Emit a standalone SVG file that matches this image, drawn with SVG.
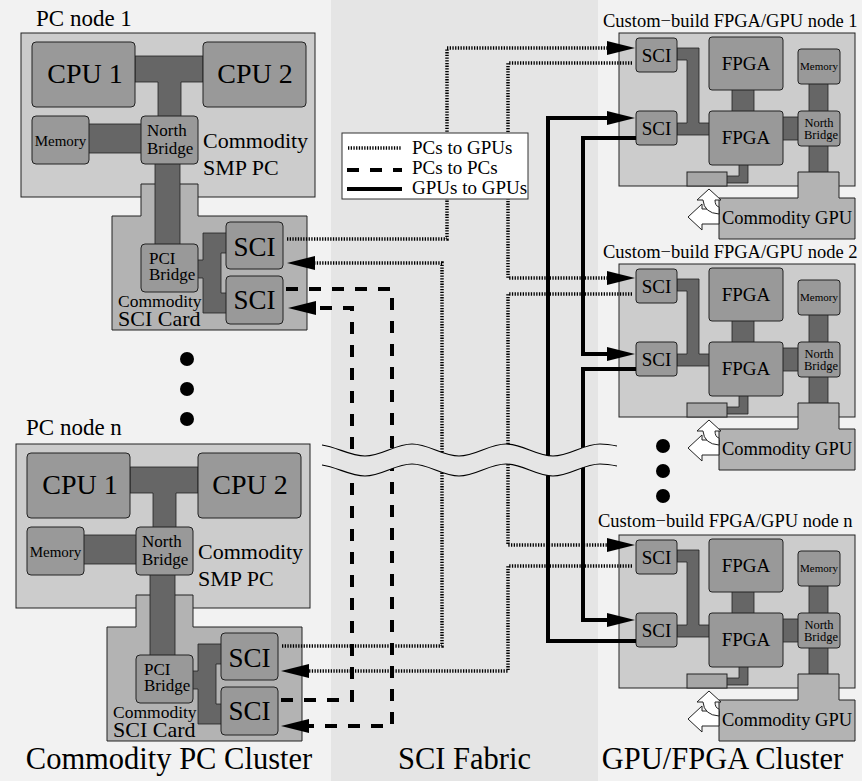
<svg xmlns="http://www.w3.org/2000/svg" width="862" height="781" viewBox="0 0 862 781" font-family="'Liberation Serif', 'DejaVu Serif', 'Noto Serif', serif">
<style>
text{font-family:'Liberation Serif','DejaVu Serif',serif;fill:#000}
.box{fill:#cccccc;stroke:#222;stroke-width:1}
.card{fill:#b3b3b3;stroke:#222;stroke-width:1}
.chip{fill:#999999;stroke:#222;stroke-width:1}
.bus{fill:#666666;stroke:#222;stroke-width:0.8}
.conn{fill:#a6a6a6;stroke:#222;stroke-width:1}
.warr{fill:#ffffff;stroke:#222;stroke-width:1}
.dot{fill:none;stroke:#000;stroke-width:3.5;stroke-dasharray:1.3 1.4}
.dash{fill:none;stroke:#000;stroke-width:4;stroke-dasharray:12 11}
.solid{fill:none;stroke:#000;stroke-width:4}
.arr{marker-end:url(#ah)}
.wave{fill:none;stroke:#000;stroke-width:1.2}
.mid{text-anchor:middle}
</style>
<defs>
<marker id="ah" markerUnits="userSpaceOnUse" markerWidth="28" markerHeight="14" viewBox="0 0 28 14" refX="1" refY="7" orient="auto">
<path d="M0,0 L28,7 L0,14 Z" fill="#000"/>
</marker>
<mask id="wavemask" maskUnits="userSpaceOnUse" x="0" y="0" width="862" height="781">
<rect x="0" y="0" width="862" height="781" fill="#fff"/>
<path fill="#000" d="M322,445 C337,447 350,456 365,456 C382,456 395,444 412,444 C429,444 442,456 459,456 C476,456 489,444 506,444 C523,444 536,456 553,456 C570,456 583,444 600,444 C607,444 612,445 617,446 L617,466 C612,465 607,464 600,464 C583,464 570,476 553,476 C536,476 523,464 506,464 C489,464 476,476 459,476 C442,476 429,464 412,464 C395,464 382,476 365,476 C350,476 337,467 322,465 Z"/>
</mask>
</defs>

<!-- background -->
<rect x="0" y="0" width="862" height="781" fill="#f2f2f2"/>
<rect x="331" y="0" width="267" height="781" fill="#e5e5e5"/>

<!-- PC node 1 -->
<g id="pc-node-1">
<text x="36" y="26" font-size="23">PC node 1</text>
<rect class="box" x="21" y="33" width="294" height="164"/>
<path class="card" d="M112,216 H141 V184 H198 V216 H307 V330 H112 Z"/>
<path class="bus" d="M135,56 H203 V82 H181 V118 H158 V82 H135 Z"/>
<rect class="bus" x="87" y="124" width="56" height="29"/>
<rect class="bus" x="155" y="162" width="25" height="84"/>
<path class="bus" d="M203,233 H227 V253 H221 V293 H227 V313 H203 V278 H197 V260 H203 Z"/>
<rect class="chip" x="32" y="42" width="103" height="65" rx="4"/>
<rect class="chip" x="203" y="42" width="103" height="65" rx="4"/>
<rect class="chip" x="32" y="116" width="57" height="48" rx="4"/>
<rect class="chip" x="141" y="116" width="57" height="48" rx="4"/>
<rect class="chip" x="141" y="244" width="57" height="48" rx="4"/>
<rect class="chip" x="226" y="222" width="57" height="47" rx="4"/>
<rect class="chip" x="226" y="276" width="57" height="48" rx="4"/>
<text x="85" y="83" font-size="28" class="mid">CPU 1</text>
<text x="255" y="83" font-size="28" class="mid">CPU 2</text>
<text x="60.5" y="146" font-size="15" class="mid">Memory</text>
<text x="147" y="136" font-size="17">North</text>
<text x="147" y="154" font-size="17">Bridge</text>
<text x="203" y="148" font-size="22">Commodity</text>
<text x="203" y="175" font-size="22">SMP PC</text>
<text x="149" y="264" font-size="17">PCI</text>
<text x="149" y="280" font-size="17">Bridge</text>
<text x="118" y="307" font-size="17.5">Commodity</text>
<text x="118" y="326" font-size="22">SCI Card</text>
<text x="254.5" y="256" font-size="27" class="mid">SCI</text>
<text x="254.5" y="309" font-size="27" class="mid">SCI</text>
</g>

<!-- PC node n -->
<g id="pc-node-n">
<text x="26" y="435" font-size="23">PC node n</text>
<g transform="translate(-5,411)">
<rect class="box" x="21" y="33" width="294" height="164"/>
<path class="card" d="M112,216 H141 V184 H198 V216 H307 V330 H112 Z"/>
<path class="bus" d="M135,56 H203 V82 H181 V118 H158 V82 H135 Z"/>
<rect class="bus" x="87" y="124" width="56" height="29"/>
<rect class="bus" x="155" y="162" width="25" height="84"/>
<path class="bus" d="M203,233 H227 V253 H221 V293 H227 V313 H203 V278 H197 V260 H203 Z"/>
<rect class="chip" x="32" y="42" width="103" height="65" rx="4"/>
<rect class="chip" x="203" y="42" width="103" height="65" rx="4"/>
<rect class="chip" x="32" y="116" width="57" height="48" rx="4"/>
<rect class="chip" x="141" y="116" width="57" height="48" rx="4"/>
<rect class="chip" x="141" y="244" width="57" height="48" rx="4"/>
<rect class="chip" x="226" y="222" width="57" height="47" rx="4"/>
<rect class="chip" x="226" y="276" width="57" height="48" rx="4"/>
<text x="85" y="83" font-size="28" class="mid">CPU 1</text>
<text x="255" y="83" font-size="28" class="mid">CPU 2</text>
<text x="60.5" y="146" font-size="15" class="mid">Memory</text>
<text x="147" y="136" font-size="17">North</text>
<text x="147" y="154" font-size="17">Bridge</text>
<text x="203" y="148" font-size="22">Commodity</text>
<text x="203" y="175" font-size="22">SMP PC</text>
<text x="149" y="264" font-size="17">PCI</text>
<text x="149" y="280" font-size="17">Bridge</text>
<text x="118" y="307" font-size="17.5">Commodity</text>
<text x="118" y="326" font-size="22">SCI Card</text>
<text x="254.5" y="256" font-size="27" class="mid">SCI</text>
<text x="254.5" y="309" font-size="27" class="mid">SCI</text>
</g>
</g>

<!-- dots -->
<g id="ellipsis-pc">
<circle cx="187" cy="359" r="7" fill="#000"/>
<circle cx="187" cy="389" r="7" fill="#000"/>
<circle cx="187" cy="419" r="7" fill="#000"/>
</g>
<g id="ellipsis-gpu">
<circle cx="663" cy="446" r="7" fill="#000"/>
<circle cx="663" cy="471" r="7" fill="#000"/>
<circle cx="663" cy="496" r="7" fill="#000"/>
</g>

<!-- GPU node 1 -->
<g id="gpu-node-1">
<text x="603" y="27" font-size="18.5">Custom−build FPGA/GPU node 1</text>
<rect class="box" x="619" y="33" width="236" height="153"/>
<path class="bus" d="M677,48 H699 V123 H710 V135 H677 V123 H687 V60 H677 Z"/>
<rect class="bus" x="732" y="88" width="22" height="25"/>
<rect class="bus" x="809" y="82" width="19" height="31"/>
<rect class="bus" x="781" y="117" width="19" height="23"/>
<rect class="bus" x="809" y="144" width="19" height="30"/>
<path class="bus" d="M739,163 H748 V183 H725 V176 H739 Z"/>
<rect class="conn" x="687" y="172" width="40" height="14"/>
<rect class="chip" x="636" y="38" width="41" height="34" rx="3"/>
<rect class="chip" x="636" y="111" width="41" height="34" rx="3"/>
<rect class="chip" x="709" y="37" width="74" height="53" rx="3"/>
<rect class="chip" x="709" y="111" width="74" height="54" rx="3"/>
<rect class="chip" x="798" y="49" width="42" height="35" rx="3"/>
<rect class="chip" x="798" y="111" width="42" height="35" rx="3"/>
<path class="card" d="M798,172 H839 V198 H855 V239 H719 V198 H798 Z"/>
<path class="warr" d="M688,217 L702,204 V209 H719 V224 H702 V230 Z"/>
<path class="warr" d="M719,214 Q704,213 703,200 L697,200 L709,189 L721,200 L715,200 Q715,206 719,207 Z"/>
<text x="656.5" y="62" font-size="19" class="mid">SCI</text>
<text x="656.5" y="135" font-size="19" class="mid">SCI</text>
<text x="746" y="70" font-size="19" class="mid">FPGA</text>
<text x="746" y="144" font-size="19" class="mid">FPGA</text>
<text x="819" y="70" font-size="11" class="mid">Memory</text>
<text x="819" y="127" font-size="12.5" class="mid">North</text>
<text x="821" y="139" font-size="12.5" class="mid">Bridge</text>
<text x="722" y="224" font-size="18.5">Commodity GPU</text>
</g>

<!-- GPU node 2 -->
<g id="gpu-node-2">
<text x="603" y="258" font-size="18.5">Custom−build FPGA/GPU node 2</text>
<g transform="translate(0,231)">
<rect class="box" x="619" y="33" width="236" height="153"/>
<path class="bus" d="M677,48 H699 V123 H710 V135 H677 V123 H687 V60 H677 Z"/>
<rect class="bus" x="732" y="88" width="22" height="25"/>
<rect class="bus" x="809" y="82" width="19" height="31"/>
<rect class="bus" x="781" y="117" width="19" height="23"/>
<rect class="bus" x="809" y="144" width="19" height="30"/>
<path class="bus" d="M739,163 H748 V183 H725 V176 H739 Z"/>
<rect class="conn" x="687" y="172" width="40" height="14"/>
<rect class="chip" x="636" y="38" width="41" height="34" rx="3"/>
<rect class="chip" x="636" y="111" width="41" height="34" rx="3"/>
<rect class="chip" x="709" y="37" width="74" height="53" rx="3"/>
<rect class="chip" x="709" y="111" width="74" height="54" rx="3"/>
<rect class="chip" x="798" y="49" width="42" height="35" rx="3"/>
<rect class="chip" x="798" y="111" width="42" height="35" rx="3"/>
<path class="card" d="M798,172 H839 V198 H855 V239 H719 V198 H798 Z"/>
<path class="warr" d="M688,217 L702,204 V209 H719 V224 H702 V230 Z"/>
<path class="warr" d="M719,214 Q704,213 703,200 L697,200 L709,189 L721,200 L715,200 Q715,206 719,207 Z"/>
<text x="656.5" y="62" font-size="19" class="mid">SCI</text>
<text x="656.5" y="135" font-size="19" class="mid">SCI</text>
<text x="746" y="70" font-size="19" class="mid">FPGA</text>
<text x="746" y="144" font-size="19" class="mid">FPGA</text>
<text x="819" y="70" font-size="11" class="mid">Memory</text>
<text x="819" y="127" font-size="12.5" class="mid">North</text>
<text x="821" y="139" font-size="12.5" class="mid">Bridge</text>
<text x="722" y="224" font-size="18.5">Commodity GPU</text>
</g>
</g>

<!-- GPU node n -->
<g id="gpu-node-n">
<text x="598" y="527" font-size="18.5">Custom−build FPGA/GPU node n</text>
<g transform="translate(0,502)">
<rect class="box" x="619" y="33" width="236" height="153"/>
<path class="bus" d="M677,48 H699 V123 H710 V135 H677 V123 H687 V60 H677 Z"/>
<rect class="bus" x="732" y="88" width="22" height="25"/>
<rect class="bus" x="809" y="82" width="19" height="31"/>
<rect class="bus" x="781" y="117" width="19" height="23"/>
<rect class="bus" x="809" y="144" width="19" height="30"/>
<path class="bus" d="M739,163 H748 V183 H725 V176 H739 Z"/>
<rect class="conn" x="687" y="172" width="40" height="14"/>
<rect class="chip" x="636" y="38" width="41" height="34" rx="3"/>
<rect class="chip" x="636" y="111" width="41" height="34" rx="3"/>
<rect class="chip" x="709" y="37" width="74" height="53" rx="3"/>
<rect class="chip" x="709" y="111" width="74" height="54" rx="3"/>
<rect class="chip" x="798" y="49" width="42" height="35" rx="3"/>
<rect class="chip" x="798" y="111" width="42" height="35" rx="3"/>
<path class="card" d="M798,172 H839 V198 H855 V239 H719 V198 H798 Z"/>
<path class="warr" d="M688,217 L702,204 V209 H719 V224 H702 V230 Z"/>
<path class="warr" d="M719,214 Q704,213 703,200 L697,200 L709,189 L721,200 L715,200 Q715,206 719,207 Z"/>
<text x="656.5" y="62" font-size="19" class="mid">SCI</text>
<text x="656.5" y="135" font-size="19" class="mid">SCI</text>
<text x="746" y="70" font-size="19" class="mid">FPGA</text>
<text x="746" y="144" font-size="19" class="mid">FPGA</text>
<text x="819" y="70" font-size="11" class="mid">Memory</text>
<text x="819" y="127" font-size="12.5" class="mid">North</text>
<text x="821" y="139" font-size="12.5" class="mid">Bridge</text>
<text x="722" y="224" font-size="18.5">Commodity GPU</text>
</g>
</g>

<!-- connectors -->
<g id="connectors" mask="url(#wavemask)">
<path class="dot arr" d="M287,239 H447 V48 H608"/>
<path class="dot arr" d="M632,63 H508 V278 H608"/>
<path class="dot arr" d="M632,294 H508 V545 H608"/>
<path class="dot arr" d="M632,566 H508 V671 H308"/>
<path class="dot arr" d="M282,646 H442 V263 H314"/>
<path class="dash arr" d="M286,289 H392 V726 H308"/>
<path class="dash arr" d="M281,700 H352 V308 H315"/>
<path class="solid arr" d="M636,641 H548 V118 H608"/>
<path class="solid arr" d="M636,138 H583 V354 H608"/>
<path class="solid arr" d="M636,369 H583 V620 H608"/>
</g>

<!-- wave break -->
<g id="break">
<path class="wave" d="M322,445 C337,447 350,456 365,456 C382,456 395,444 412,444 C429,444 442,456 459,456 C476,456 489,444 506,444 C523,444 536,456 553,456 C570,456 583,444 600,444 C607,444 612,445 617,446"/>
<path class="wave" d="M322,465 C337,467 350,476 365,476 C382,476 395,464 412,464 C429,464 442,476 459,476 C476,476 489,464 506,464 C523,464 536,476 553,476 C570,476 583,464 600,464 C607,464 612,465 617,466"/>
</g>

<!-- legend -->
<g id="legend">
<rect x="342" y="133" width="186" height="66" fill="#fff" stroke="#333" stroke-width="1"/>
<line class="dot" x1="348" y1="148" x2="401" y2="148"/>
<line class="dash" x1="347" y1="170" x2="402" y2="170"/>
<line class="solid" x1="347" y1="189" x2="402" y2="189"/>
<text x="412" y="154" font-size="19">PCs to GPUs</text>
<text x="412" y="174" font-size="19">PCs to PCs</text>
<text x="412" y="194" font-size="19">GPUs to GPUs</text>
</g>

<!-- cluster labels -->
<g id="labels">
<text x="169" y="769" font-size="30.5" class="mid">Commodity PC Cluster</text>
<text x="464.5" y="769" font-size="30.5" class="mid">SCI Fabric</text>
<text x="722.5" y="769" font-size="30.5" class="mid">GPU/FPGA Cluster</text>
</g>
</svg>
